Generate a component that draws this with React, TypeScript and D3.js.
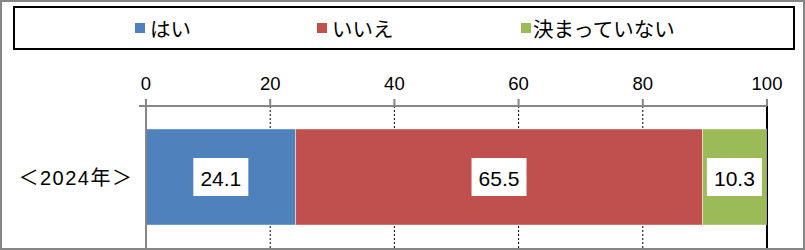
import React from "react";
import * as d3 from "d3";

const categories = ["＜2024年＞"];
const seriesNames = ["はい", "いいえ", "決まっていない"];
const seriesColors = ["#4F81BD", "#C0504D", "#9BBB59"];
const yesValues = [24.1];
const noValues = [65.5];
const undecidedValues = [10.3];
const tickValues = [0, 20, 40, 60, 80, 100];

const W = 805;
const H = 250;
const FONT = "'Liberation Sans', 'Noto Sans CJK JP', sans-serif";

export default function App() {
  const rows = categories.map((c, i) => ({
    category: c,
    [seriesNames[0]]: yesValues[i],
    [seriesNames[1]]: noValues[i],
    [seriesNames[2]]: undecidedValues[i],
  }));
  const stacked = d3.stack<any>().keys(seriesNames)(rows);

  const x = d3.scaleLinear().domain([0, 100]).range([146, 767]);
  const y = d3
    .scaleBand<string>()
    .domain(categories)
    .range([106, 248])
    .paddingInner(0.193)
    .paddingOuter(0.193);

  const axisY = 106;
  const plotBottom = 248;

  const legendItems = [
    { sq: 135, tx: 150 },
    { sq: 317, tx: 332 },
    { sq: 521, tx: 533 },
  ];

  return (
    <svg
      width={W}
      height={H}
      style={{ position: "absolute", left: 0, top: 0, fontFamily: FONT }}
    >
      <rect x={0} y={0} width={W} height={H} fill="#ffffff" />

      {/* legend */}
      <rect x={14} y={7} width={780} height={42} fill="#ffffff" stroke="#000" strokeWidth={2} />
      {seriesNames.map((name, i) => (
        <g key={name}>
          <rect x={legendItems[i].sq} y={23} width={10} height={10} fill={seriesColors[i]} />
          <text
            x={legendItems[i].tx}
            y={29}
            fontSize={20.5}
            dominantBaseline="central"
            fill="#000"
          >
            {name}
          </text>
        </g>
      ))}

      {/* gridlines */}
      {tickValues.slice(1, -1).map((t) => (
        <line
          key={"g" + t}
          x1={x(t)}
          x2={x(t)}
          y1={axisY}
          y2={plotBottom}
          stroke="#000"
          strokeWidth={1}
          strokeDasharray="2,2"
        />
      ))}
      <line x1={x(100)} x2={x(100)} y1={axisY} y2={plotBottom} stroke="#000" strokeWidth={2} />

      {/* bars */}
      {stacked.map((s, si) =>
        s.map((d, di) => {
          const x0 = x(d[0]);
          const x1 = x(d[1]);
          const by = y(categories[di])!;
          const bh = y.bandwidth();
          const v = d[1] - d[0];
          const cx = (x0 + x1) / 2;
          const cy = by + bh / 2;
          return (
            <g key={s.key + di}>
              <rect x={x0} y={by} width={x1 - x0} height={bh} fill={seriesColors[si]} stroke="#ffffff" strokeOpacity={0.6} strokeWidth={0.75} />
              <rect x={cx - 27.5} y={cy - 19} width={55} height={38} fill="#ffffff" />
              <text
                x={cx}
                y={cy + 1}
                fontSize={21}
                textAnchor="middle"
                dominantBaseline="central"
                fill="#000"
              >
                {d3.format(".1f")(v)}
              </text>
            </g>
          );
        })
      )}

      {/* value axis (top) */}
      <line x1={139} x2={x(100)} y1={axisY} y2={axisY} stroke="#868686" strokeWidth={2} />
      {tickValues.map((t) => (
        <g key={"t" + t}>
          <line x1={x(t)} x2={x(t)} y1={axisY - 7} y2={axisY} stroke="#868686" strokeWidth={2} />
          <text x={x(t)} y={83} fontSize={18.5} textAnchor="middle" dominantBaseline="central" fill="#000">
            {t}
          </text>
        </g>
      ))}
      <line x1={x(0)} x2={x(0)} y1={axisY - 7} y2={plotBottom} stroke="#868686" strokeWidth={2} />

      {/* category labels */}
      {categories.map((c) => (
        <text
          key={c}
          x={76}
          y={y(c)! + y.bandwidth() / 2 + 1}
          fontSize={20}
          letterSpacing={1.5}
          textAnchor="middle"
          dominantBaseline="central"
          fill="#000"
        >
          {c}
        </text>
      ))}

      {/* outer frame */}
      <rect x={1} y={1} width={W - 2} height={H - 2} fill="none" stroke="#868686" strokeWidth={2} />
    </svg>
  );
}
